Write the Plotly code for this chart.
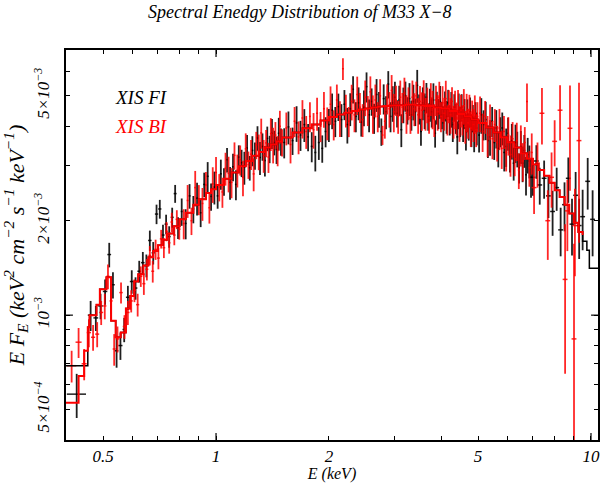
import math
import plotly.graph_objects as go

# ---------------- data (flux in units of 1e-3 keV^2 cm^-2 s^-1 keV^-1) ----------------
# XIS FI (black) - low-energy wide bins
fi_low_e = [0.425,0.463,0.478,0.492,0.506,0.519,0.531,0.543,0.556,0.569,0.582,0.596,0.610,
            0.624,0.638,0.652,0.666,0.680,0.694,0.708,0.722,0.736,0.750,0.764,0.778,0.792]
fi_low_flux = [0.56,1.00,0.98,1.07,1.19,1.56,1.25,0.77,0.80,0.90,1.14,1.28,1.22,
               1.38,1.47,1.44,1.73,1.58,2.10,2.18,1.80,1.95,1.78,2.05,2.44,1.90]
fi_low_err = [0.09,0.11,0.09,0.10,0.11,0.14,0.12,0.09,0.08,0.08,0.10,0.11,0.10,
              0.11,0.12,0.12,0.13,0.13,0.15,0.15,0.14,0.14,0.14,0.15,0.16,0.15]
fi_low_xerr = [0.025,0.008,0.007,0.007,0.007,0.006,0.006,0.006,0.007,0.006,0.007,0.007,0.007,
               0.007,0.007,0.007,0.007,0.007,0.007,0.007,0.007,0.007,0.007,0.007,0.007,0.007]

# XIS FI - main band
fi_e = [0.81,0.83,0.85,0.87,0.89,0.91,0.93,0.95,0.97,0.99,1.01,1.03,1.05,1.07,1.09,1.11,1.13,1.15,
        1.17,1.19,1.21,1.23,1.25,1.27,1.29,1.31,1.33,1.35,1.37,1.39,1.41,1.43,1.45,1.47,1.49,
        1.52,1.56,1.60,1.64,1.68,1.72,1.76,1.80,1.84,1.88,1.92,1.96,2.00,2.04,2.08,2.12,2.16,2.20,
        2.24,2.28,2.32,2.36,2.40,2.44,2.48,2.52,2.56,2.60,2.64,2.68,2.72,2.76,2.80,2.84,2.88,2.92,
        2.96,3.00,3.04,3.08,3.12,3.16,3.20,3.24,3.28,3.32,3.36,3.40,3.44,3.48,3.52,3.56,3.60,3.64,
        3.68,3.72,3.76,3.80,3.84,3.88,3.92,3.96,4.00,4.04,4.08,4.12,4.16,4.20,4.24,4.28,4.32,4.36,
        4.40,4.44,4.48,4.52,4.56,4.60,4.64,4.68,4.72,4.76,4.80,4.84,4.88,4.92,4.96,
        5.03,5.10,5.17,5.24,5.31,5.38,5.45,5.52,5.59,5.66,5.73,5.80,5.87,5.94,6.01,6.08,6.15,6.22,
        6.29,6.36,6.43,6.50,6.57,6.64,6.71,6.78,6.85,6.92]
fi_flux = [2.14,1.96,2.40,2.18,2.36,2.12,2.61,2.77,2.39,2.56,2.40,2.82,2.67,3.13,2.65,2.97,2.61,3.19,
           3.06,2.96,3.41,2.95,3.35,3.23,3.67,3.18,3.45,3.11,3.66,3.39,3.80,3.55,3.37,3.80,3.58,
           3.55,3.98,3.60,4.10,3.75,4.05,3.70,3.45,3.30,3.55,3.40,3.85,4.05,4.50,4.15,4.62,4.20,4.70,
           4.05,4.55,5.25,4.30,4.75,4.12,4.60,5.35,4.35,4.80,4.25,5.05,4.55,3.85,4.90,4.45,5.45,4.30,
           4.75,4.95,4.40,4.85,3.90,4.70,5.00,4.50,4.90,4.35,4.80,4.45,5.40,4.55,3.85,4.75,4.50,4.95,
           4.30,4.70,4.45,4.85,3.80,4.60,4.40,4.80,4.35,4.10,4.65,4.30,4.75,4.20,4.55,4.05,4.60,4.25,
           3.70,4.50,4.15,4.60,4.05,4.40,3.85,4.35,4.00,4.45,3.90,4.25,3.80,4.30,3.95,
           3.75,4.35,4.05,4.20,3.60,3.70,4.15,3.55,3.95,3.40,3.85,3.95,3.30,3.45,3.80,3.20,3.60,3.05,
           3.55,3.40,2.95,3.45,3.05,3.35,2.80,3.25,3.10,2.75]
fi_err_pct = [10,11,9,10,12,10,9,11,10,12,9,11,10,9,12,10,11,9,10,12,10,9,11,10,9,12,10,11,9,10,11,9,10,12,10,
              11,12,10,13,11,12,10,11,13,12,10,11,12,13,11,10,12,11,13,12,10,11,12,10,13,11,12,10,11,12,
              13,10,11,12,10,11,13,12,10,11,12,13,11,10,12,11,13,10,12,11,10,12,13,11,10,12,11,13,10,12,
              11,12,10,13,11,12,10,11,13,12,10,11,12,13,11,10,12,11,13,12,10,11,12,10,13,11,12,
              12,13,11,14,12,13,11,12,14,13,11,12,13,14,12,11,13,12,14,13,11,12,13,12,14,13,12,14]

# XIS FI - high-energy bins
fi_hi_e = [7.00,7.15,7.30,7.50,7.70,7.90,8.10,8.30,8.50,8.70,8.90,9.10,9.30,9.50,9.80,10.1]
fi_hi_flux = [2.75,3.10,2.60,2.73,2.40,2.14,2.55,1.87,2.25,2.73,1.95,2.41,1.93,2.06,2.67,2.02]
fi_hi_err = [0.35,0.38,0.35,0.38,0.36,0.35,0.40,0.33,0.40,0.45,0.40,0.45,0.42,0.45,0.50,0.48]

# XIS BI (red) - low-energy bins
bi_low_e = [0.412,0.430,0.445,0.458,0.470,0.482,0.494,0.505,0.515,0.525,0.535,0.546,0.558,0.570,
            0.582,0.594,0.606,0.618,0.630,0.642,0.654,0.666,0.678,0.690,0.702,0.714,0.726,0.738,
            0.750,0.762,0.774,0.786,0.798]
bi_low_flux = [0.69,0.82,0.70,0.88,0.85,0.87,1.02,1.07,1.33,1.11,0.78,0.84,1.18,0.92,
               1.02,1.11,1.20,1.08,1.33,1.26,1.40,1.55,1.38,1.62,1.52,1.75,1.64,1.85,
               1.70,1.98,1.80,2.02,1.88]
bi_low_err = [0.08,0.09,0.08,0.09,0.08,0.08,0.09,0.10,0.12,0.10,0.09,0.08,0.09,0.08,
              0.09,0.09,0.10,0.09,0.10,0.10,0.11,0.11,0.11,0.12,0.12,0.12,0.12,0.13,
              0.13,0.14,0.13,0.14,0.14]
bi_low_xerr = [0.012,0.008,0.007,0.006,0.006,0.006,0.006,0.005,0.005,0.005,0.005,0.006,0.006,0.006,
               0.006,0.006,0.006,0.006,0.006,0.006,0.006,0.006,0.006,0.006,0.006,0.006,0.006,0.006,
               0.006,0.006,0.006,0.006,0.006]

# XIS BI - main band
bi_e = [0.82,0.84,0.86,0.88,0.90,0.92,0.94,0.96,0.98,1.00,1.02,1.04,1.06,1.08,1.10,1.12,1.14,1.16,
        1.18,1.20,1.22,1.24,1.26,1.28,1.30,1.32,1.34,1.36,1.38,1.40,1.42,1.44,1.46,1.48,1.50,
        1.54,1.58,1.62,1.66,1.70,1.74,1.78,1.82,1.86,1.90,1.94,1.98,2.02,2.06,2.10,2.14,2.18,2.22,
        2.26,2.30,2.34,2.38,2.42,2.46,2.50,2.54,2.58,2.62,2.66,2.70,2.74,2.78,2.82,2.86,2.90,2.94,
        2.98,3.02,3.06,3.10,3.14,3.18,3.22,3.26,3.30,3.34,3.38,3.42,3.46,3.50,3.54,3.58,3.62,3.66,
        3.70,3.74,3.78,3.82,3.86,3.90,3.94,3.98,4.02,4.06,4.10,4.14,4.18,4.22,4.26,4.30,4.34,4.38,
        4.42,4.46,4.50,4.54,4.58,4.62,4.66,4.70,4.74,4.78,4.82,4.86,4.90,4.94,4.98,
        5.06,5.14,5.22,5.30,5.38,5.46,5.54,5.62,5.70,5.78,5.86,5.94,6.02,6.10,6.18,6.26,6.34,6.42,
        6.50,6.58,6.66,6.75,6.85,6.95]
bi_flux = [1.96,2.32,2.00,2.55,2.34,2.27,2.60,2.20,2.62,2.85,2.56,2.47,2.94,2.83,2.65,3.23,2.90,3.13,
           2.75,3.39,3.02,3.26,2.82,3.49,3.33,3.81,3.23,3.54,3.19,3.79,3.50,3.75,3.35,4.00,3.56,
           3.95,3.50,4.15,3.70,4.25,3.85,4.30,3.90,4.40,4.00,4.55,4.10,4.70,4.05,4.85,4.25,6.10,4.50,
           4.15,4.80,4.35,5.05,4.60,4.20,4.95,4.50,5.15,4.40,4.85,4.30,5.00,3.75,4.15,4.90,4.55,5.20,
           4.45,4.85,4.30,4.95,4.60,5.10,4.40,4.75,4.25,4.95,4.55,5.00,4.35,4.80,4.50,5.05,4.40,4.70,
           4.25,4.90,4.55,4.20,4.85,4.45,4.95,4.30,4.75,4.40,4.90,4.20,4.65,4.35,4.80,4.15,4.55,4.25,
           4.70,4.10,4.50,4.20,4.65,4.00,4.45,4.10,4.50,3.95,4.35,4.05,4.40,3.90,4.30,
           4.40,3.85,4.30,3.75,4.15,3.65,4.05,3.55,3.95,3.40,3.85,3.30,3.75,3.25,3.65,3.15,3.60,2.90,
           3.50,3.10,3.55,4.80,2.95,3.30]
bi_err_pct = [11,12,10,13,11,12,10,11,13,12,10,11,12,13,11,10,12,11,13,12,10,11,12,10,13,11,12,10,11,12,13,10,11,12,10,
              12,13,11,12,14,12,11,13,12,11,13,12,14,11,12,13,8,12,11,13,12,14,11,12,13,11,12,14,12,11,
              13,7,12,11,13,12,14,11,12,13,11,12,14,12,11,13,12,11,13,12,14,11,12,13,11,12,14,12,11,13,
              12,11,13,12,14,11,12,13,11,12,14,12,11,13,12,11,13,12,14,11,12,13,11,12,14,12,11,
              13,14,12,15,13,14,12,13,15,14,12,13,14,15,13,12,14,13,15,14,12,14,13,15]

# XIS BI - high-energy bins
bi_hi_e = [7.05,7.20,7.40,7.67,7.85,8.00,8.27,8.53,8.65,8.79,9.01,9.06,9.29]
bi_hi_flux = [2.55,3.05,4.40,2.00,2.75,3.58,4.50,1.30,2.15,3.94,0.84,1.93,3.60]
bi_hi_err = [0.45,0.50,0.90,0.50,0.55,0.60,0.90,0.65,0.55,1.45,0.85,0.60,1.90]

# best-fit model (step histogram)
model_e = [0.455,0.46,0.48,0.49,0.51,0.525,0.54,0.557,0.575,0.59,0.605,0.62,0.64,0.66,0.68,0.70,
           0.72,0.74,0.77,0.80,0.83,0.87,0.90,0.94,0.97,1.0,1.05,1.1,1.15,1.2,1.25,1.3,1.35,1.4,
           1.45,1.5,1.6,1.7,1.8,1.9,2.0,2.1,2.2,2.3,2.4,2.5,2.6,2.7,2.8,2.9,3.0,3.2,3.4,3.6,3.8,
           4.0,4.2,4.4,4.6,4.8,5.0,5.25,5.5,5.75,6.0,6.25,6.5,6.75,7.0,7.25,7.5,7.75,8.0,8.25,8.5,
           8.75,9.0,9.25]
model_flux = [0.915,1.00,1.08,1.21,1.32,0.96,0.85,0.88,1.05,1.15,1.28,1.35,1.44,1.53,1.60,1.67,
              1.74,1.82,1.92,2.02,2.12,2.25,2.34,2.45,2.52,2.60,2.72,2.85,2.98,3.10,3.22,3.31,3.42,3.50,
              3.58,3.68,3.82,3.94,4.05,4.17,4.28,4.36,4.42,4.47,4.52,4.56,4.59,4.62,4.64,4.66,4.67,4.68,4.67,4.64,4.60,
              4.55,4.47,4.38,4.29,4.20,4.10,3.96,3.82,3.69,3.56,3.42,3.28,3.15,3.02,2.90,2.78,2.64,2.50,2.38,2.25,
              2.11,1.97,1.84]
fi_model_head_e = [0.398]
fi_model_head_flux = [0.69]
fi_model_tail_e = [9.5,9.75,9.9,10.44]
fi_model_tail_flux = [1.72,1.61,1.41,1.41]
bi_model_head_e = [0.398,0.43,0.445]
bi_model_head_flux = [0.526,0.64,0.77]
bi_model_tail_e = [9.5]
bi_model_tail_flux = [1.80]

x_tick_vals = [0.5, 1, 2, 5, 10]
x_tick_text = ["0.5", "1", "2", "5", "10"]
x_minor_vals = [0.4, 0.6, 0.7, 0.8, 0.9, 3, 4, 6, 7, 8, 9]
y_tick_vals = [5e-4, 1e-3, 2e-3, 5e-3]
y_tick_text = ["5×10<sup>−4</sup>", "10<sup>−3</sup>", "2×10<sup>−3</sup>", "5×10<sup>−3</sup>"]
y_minor_vals = [4e-4, 6e-4, 7e-4, 8e-4, 9e-4, 3e-3, 4e-3, 6e-3, 7e-3]

S = 1e-3
FONT = "Liberation Serif"
BLACK = "rgba(0,0,0,0.88)"
RED = "rgba(255,0,0,0.85)"

fig = go.Figure()


def add_data(x, y, err, color, xerr=None, xpct=None, pct=False):
    yy = [v * S for v in y]
    if pct:
        ee = [v * S * p / 100.0 for v, p in zip(y, err)]
    else:
        ee = [e * S for e in err]
    if xerr is not None:
        ex = dict(type="data", array=xerr, color=color, thickness=1.5, width=0)
    else:
        ex = dict(type="percent", value=xpct, color=color, thickness=1.5, width=0)
    fig.add_trace(go.Scatter(
        x=x, y=yy, mode="markers",
        marker=dict(size=1, color=color, opacity=0),
        error_y=dict(type="data", array=ee, color=color, thickness=1.8, width=0),
        error_x=ex, showlegend=False, hoverinfo="skip"))


add_data(fi_low_e, fi_low_flux, fi_low_err, BLACK, xerr=fi_low_xerr)
add_data(fi_e, fi_flux, fi_err_pct, BLACK, xpct=0.6, pct=True)
add_data(fi_hi_e, fi_hi_flux, fi_hi_err, BLACK, xpct=1.5)
add_data(bi_low_e, bi_low_flux, bi_low_err, RED, xerr=bi_low_xerr)
add_data(bi_e, bi_flux, bi_err_pct, RED, xpct=0.6, pct=True)
add_data(bi_hi_e, bi_hi_flux, bi_hi_err, RED, xpct=1.5)

fi_me = fi_model_head_e + model_e + fi_model_tail_e
fi_mf = fi_model_head_flux + model_flux + fi_model_tail_flux
bi_me = bi_model_head_e + model_e + bi_model_tail_e
bi_mf = bi_model_head_flux + model_flux + bi_model_tail_flux

fig.add_trace(go.Scatter(x=fi_me, y=[v * S for v in fi_mf], mode="lines",
                         line=dict(color="black", width=1.5, shape="hv"),
                         showlegend=False, hoverinfo="skip"))
fig.add_trace(go.Scatter(x=bi_me, y=[v * S for v in bi_mf], mode="lines",
                         line=dict(color="red", width=2.0, shape="hv"),
                         showlegend=False, hoverinfo="skip"))

axis_common = dict(type="log", showline=True, linecolor="black", linewidth=1.5,
                   mirror="allticks", ticks="inside", ticklen=4, tickwidth=1.2,
                   tickcolor="black", showgrid=False, zeroline=False, automargin=False,
                   ticklabeloverflow="allow",
                   tickfont=dict(family=FONT, size=17, color="black"))

fig.update_xaxes(**axis_common,
                 range=[math.log10(0.398), math.log10(10.44)],
                 tickvals=x_tick_vals,
                 ticktext=["<i>%s</i>" % t for t in x_tick_text],
                 minor=dict(tickvals=x_minor_vals, ticks="inside", ticklen=4,
                            tickcolor="black", tickwidth=1.2, showgrid=False),
                 title=dict(text="<i>E (keV)</i>", font=dict(family=FONT, size=16, color="black"),
                            standoff=5))
fig.update_yaxes(**axis_common,
                 range=[math.log10(4.0e-4), math.log10(7.0e-3)],
                 tickvals=y_tick_vals,
                 ticktext=["<i>%s</i>" % t for t in y_tick_text],
                 tickangle=-90,
                 ticklabelstandoff=8,
                 minor=dict(tickvals=y_minor_vals, ticks="inside", ticklen=4,
                            tickcolor="black", tickwidth=1.2, showgrid=False),
                 title=dict(text="<i>E F<sub>E</sub> (keV<sup>2</sup> cm<sup>−2</sup> s<sup>−1</sup> keV<sup>−1</sup>)</i>",
                            font=dict(family=FONT, size=22, color="black"), standoff=0))

# longer decade ticks
for xv in [1, 10]:
    fig.add_shape(type="line", xref="x", yref="paper", x0=xv, x1=xv, y0=0, y1=0.018,
                  line=dict(color="black", width=1.2))
    fig.add_shape(type="line", xref="x", yref="paper", x0=xv, x1=xv, y0=1, y1=0.982,
                  line=dict(color="black", width=1.2))
fig.add_shape(type="line", xref="paper", yref="y", x0=0, x1=0.013, y0=1e-3, y1=1e-3,
              line=dict(color="black", width=1.2))
fig.add_shape(type="line", xref="paper", yref="y", x0=1, x1=0.987, y0=1e-3, y1=1e-3,
              line=dict(color="black", width=1.2))

fig.add_annotation(xref="paper", yref="paper", x=0.088, y=0.879, xanchor="left", yanchor="middle",
                   text="<i>XIS FI</i>", showarrow=False,
                   font=dict(family=FONT, size=19, color="black"))
fig.add_annotation(xref="paper", yref="paper", x=0.088, y=0.803, xanchor="left", yanchor="middle",
                   text="<i>XIS BI</i>", showarrow=False,
                   font=dict(family=FONT, size=19, color="red"))

fig.update_layout(
    width=602, height=483,
    margin=dict(l=66, r=4, t=50, b=43),
    paper_bgcolor="white", plot_bgcolor="white",
    title=dict(text="<i>Spectral Enedgy Distribution of M33 X−8</i>",
               x=0.498, xref="container", xanchor="center",
               y=1 - 5 / 483, yref="container", yanchor="top",
               font=dict(family=FONT, size=18, color="black")),
)

fig.write_html("out.html", config={"displayModeBar": False},
               post_script="document.body.style.margin='0';document.body.style.overflow='hidden';")
